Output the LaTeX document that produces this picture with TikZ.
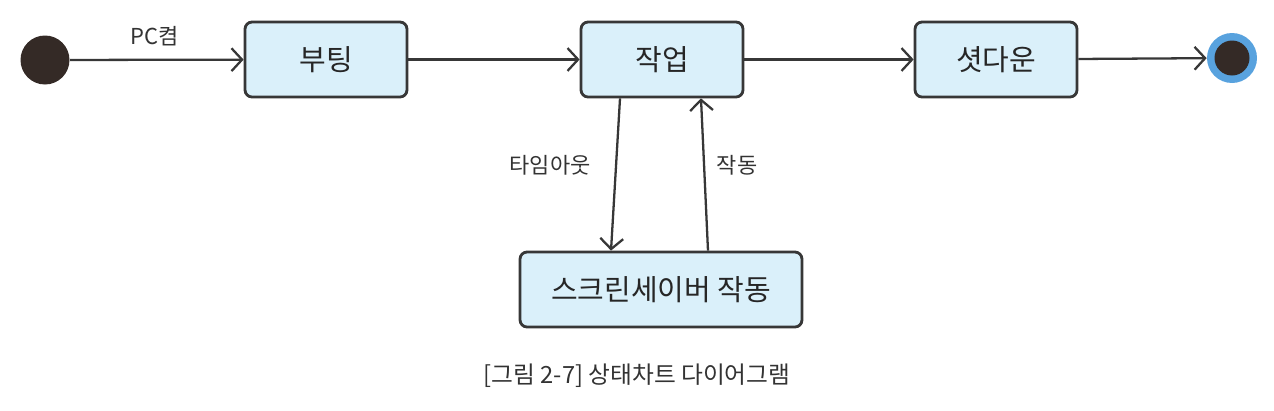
\documentclass[tikz,border=0pt]{standalone}
\usepackage{fontspec}
\setmainfont{Noto Sans CJK KR}
\usetikzlibrary{arrows.meta}
\definecolor{boxfill}{RGB}{218,240,250}
\definecolor{boxline}{RGB}{55,55,55}
\definecolor{dot}{RGB}{52,42,38}
\definecolor{ring}{RGB}{88,162,222}
\tikzset{state/.style={draw=boxline,line width=1.6pt,fill=boxfill,rounded corners=4pt,
    minimum width=3.24cm,minimum height=1.5cm,text=black!85,font=\fontsize{16.5}{18}\selectfont},
  trans/.style={draw=boxline,line width=1.3pt,-{Straight Barb[length=6pt,width=13pt]}},
  lbl/.style={font=\fontsize{12.5}{14}\selectfont,text=black!80}}

\begin{document}
\begin{tikzpicture}[x=0.02cm,y=-0.02cm]
\useasboundingbox (0,0) rectangle (1274,410);
% states
\node[circle,fill=dot,minimum size=0.98cm,inner sep=0pt] (start) at (45,60) {};
\node[state] (boot) at (326,59.5) {부팅};
\node[state] (work) at (662,59.5) {작업};
\node[state] (down) at (996,59.5) {셧다운};
\node[circle,fill=ring,minimum size=1cm,inner sep=0pt] (end) at (1232,58) {};
\node[circle,fill=dot,minimum size=0.7cm,inner sep=0pt] (endin) at (end) {};
\node[state,minimum width=5.64cm] (saver) at (661,289.5) {스크린세이버 작동};

% transitions
\draw[trans] (start) -- (boot);
\draw[trans] (boot) -- (work);
\draw[trans] (work) -- (down);
\draw[trans] (down) -- (end);
\draw[trans] ([xshift=-0.84cm]work.south) -- ([xshift=-1.0cm]saver.north);
\draw[trans] ([xshift=0.94cm]saver.north) -- ([xshift=0.78cm]work.south);

% labels
\node[lbl] (lpc) at (155,36) {PC켬};
\node[lbl] (lto) at (550,165) {타임아웃};
\node[lbl] (lon) at (737,165) {작동};
\node[font=\fontsize{13.5}{15}\selectfont,text=black!80] (cap) at (637,376) {[그림 2-7] 상태차트 다이어그램};
\end{tikzpicture}
\end{document}
